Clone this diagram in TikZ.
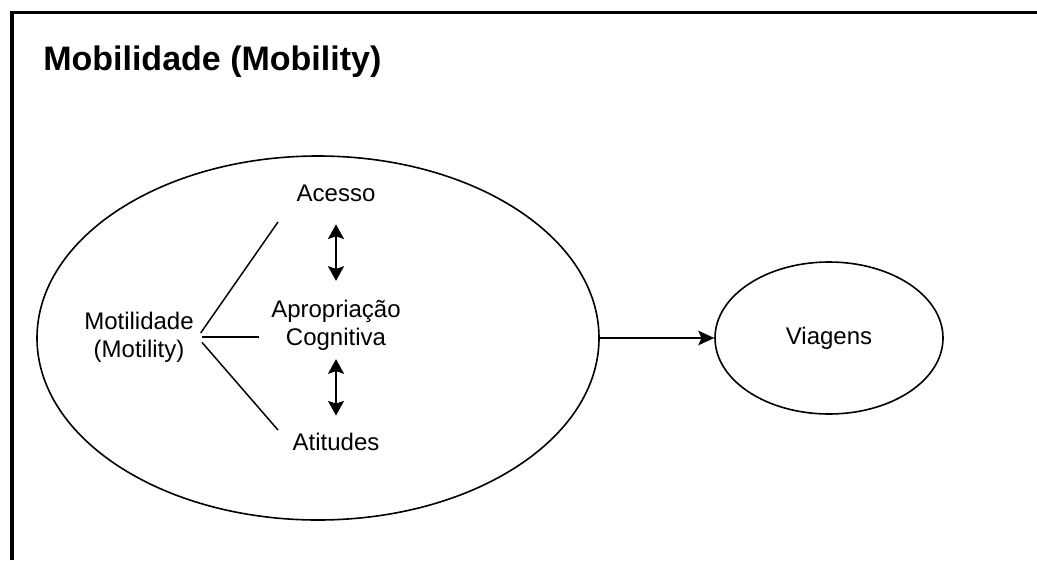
\documentclass[tikz,border=0pt]{standalone}
\usepackage{fontspec}
\setmainfont{Liberation Sans}
\usetikzlibrary{shapes.geometric,arrows.meta}

\begin{document}
\begin{tikzpicture}[x=0.75pt,y=-0.75pt,
  lbl/.style={font=\fontsize{18}{21}\selectfont,align=center,inner sep=2pt},
  oval/.style={draw,ellipse,line width=1.2pt,inner sep=0pt},
  link/.style={line width=1.1pt},
  flow/.style={line width=1.1pt,-{Stealth[length=12pt,width=11pt,inset=2.5pt]}},
  dblarrow/.style={line width=1.3pt,{Stealth[length=11pt,width=12pt,inset=2pt]}-{Stealth[length=11pt,width=12pt,inset=2pt]}}]

\useasboundingbox (0,0) rectangle (1037,560);

% ---- frame: only its top and left edges fall inside the picture ----
\draw[line width=2.6pt] (12,560) -- (12,12.5) -- (1037,12.5);

% ---- title ----
\node[anchor=base west,inner sep=0pt,font=\fontsize{25.5}{30}\selectfont\bfseries]
  (title) at (43,70) {Mobilidade (Mobility)};

% ---- the two ovals ----
\node[oval,minimum width=421.5pt,minimum height=273pt] (mob) at (318,338) {};
\node[oval,lbl,minimum width=171pt,minimum height=114pt] (via) at (829,338) {Viagens};

% ---- inside the big oval ----
\node[lbl] (mot)    at (139,337) {Motilidade\\(Motility)};
\node[lbl] (acesso) at (336,193) {Acesso};
\node[lbl] (aprop)  at (336,325) {Apropriação\\Cognitiva};
\node[lbl] (atit)   at (336,442) {Atitudes};

% free ends of the three branches
\coordinate (accEnd)  at (278,222);
\coordinate (apEnd)   at (259,337);
\coordinate (atEnd)   at (278,430);

\draw[link] ([xshift=3pt,yshift=3pt]mot.east) -- (accEnd);
\draw[link] ([xshift=4pt]mot.east) -- (apEnd);
\draw[link] ([xshift=4pt,yshift=-4pt]mot.east) -- (atEnd);

% ---- two-way links between the three components ----
\draw[dblarrow,shorten <=15pt,shorten >=12pt] (acesso) -- (aprop);
\draw[dblarrow,shorten <=4.5pt,shorten >=11pt] (aprop) -- (atit);

% ---- motility leads to trips ----
\draw[flow] (mob) -- (via);

\end{tikzpicture}
\end{document}
